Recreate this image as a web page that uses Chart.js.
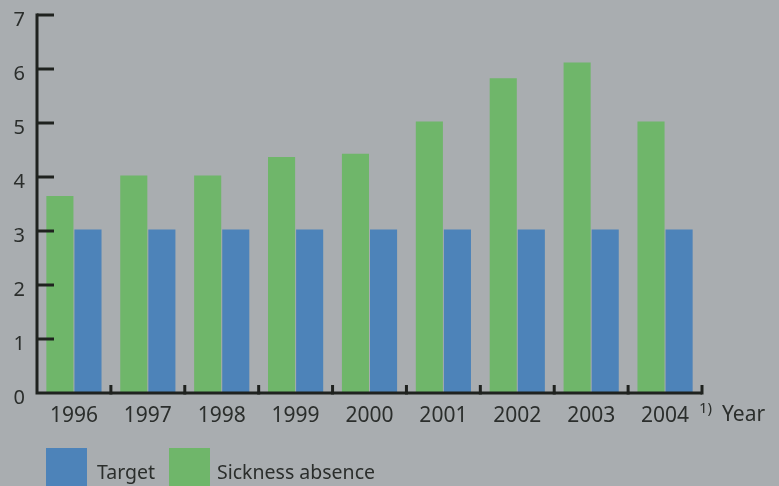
<!DOCTYPE html>
<html lang="en">
<head>
<meta charset="UTF-8">
<title>Sickness absence</title>
<script src="https://cdn.jsdelivr.net/npm/chart.js"></script>
<style>
    body { margin: 0; background: #a9adb0; }
    #wrap { width: 779px; height: 486px; }
</style>
</head>
<body>
<div id="wrap"><canvas id="grafico" width="779" height="486"></canvas></div>
<script>
    // dados
    const anos = ['1996', '1997', '1998', '1999', '2000', '2001', '2002', '2003', '2004'];
    const ausencia = [3.65, 4.03, 4.03, 4.37, 4.43, 5.03, 5.83, 6.12, 5.03];
    const meta = [3.03, 3.03, 3.03, 3.03, 3.03, 3.03, 3.03, 3.03, 3.03];
    const yTicks = [0, 1, 2, 3, 4, 5, 6, 7];

    const corEixo = '#1f221f';
    const corTexto = '#2b2e2c';
    const fonte = '"Noto Sans", "Open Sans", sans-serif';

    // eixos e legenda desenhados à mão
    const eixos = {
        id: 'eixos',
        afterDraw(chart) {
            const ctx = chart.ctx;
            const x = chart.scales.x, y = chart.scales.y;
            const x0 = x.left, x1 = x.right, yb = y.getPixelForValue(0), yt = y.getPixelForValue(7);
            ctx.save();
            ctx.strokeStyle = corEixo;
            ctx.lineWidth = 3;
            ctx.lineCap = 'butt';
            ctx.beginPath();
            ctx.moveTo(x0, yt - 1.5);
            ctx.lineTo(x0, yb);
            ctx.lineTo(x1, yb);
            ctx.stroke();
            // ticks do y, para dentro
            yTicks.forEach(v => {
                if (v === 0) return;
                const py = y.getPixelForValue(v);
                ctx.beginPath();
                ctx.moveTo(x0, py);
                ctx.lineTo(x0 + 17, py);
                ctx.stroke();
            });
            // ticks do x entre as categorias
            const w = (x1 - x0) / anos.length;
            for (let i = 1; i <= anos.length; i++) {
                const px = x0 + i * w;
                ctx.beginPath();
                ctx.moveTo(px, yb + 1.5);
                ctx.lineTo(px, yb - 8);
                ctx.stroke();
            }
            // rótulo do eixo x
            ctx.fillStyle = corTexto;
            ctx.textBaseline = 'alphabetic';
            ctx.textAlign = 'left';
            ctx.font = '15px ' + fonte;
            ctx.fillText('1)', 699, 413);
            ctx.font = '21px ' + fonte;
            ctx.fillText('Year', 722, 421);

            // legenda
            const itens = [
                { texto: 'Target', cor: chart.data.datasets[1].backgroundColor, bx: 46, tx: 97 },
                { texto: 'Sickness absence', cor: chart.data.datasets[0].backgroundColor, bx: 169, tx: 217 }
            ];
            itens.forEach(it => {
                ctx.fillStyle = it.cor;
                ctx.fillRect(it.bx, 448, 41, 40);
                ctx.fillStyle = corTexto;
                ctx.font = '19.5px ' + fonte;
                ctx.fillText(it.texto, it.tx, 479);
            });
            ctx.restore();
        }
    };

    new Chart(document.getElementById('grafico'), {
        type: 'bar',
        data: {
            labels: anos,
            datasets: [
                { label: 'Sickness absence', data: ausencia, backgroundColor: '#6fb66a' },
                { label: 'Target', data: meta, backgroundColor: '#4d83b9' }
            ]
        },
        plugins: [eixos],
        options: {
            responsive: false,
            animation: false,
            layout: { padding: { top: 15, right: 77, left: 0, bottom: 0 } },
            plugins: {
                legend: { display: false },
                tooltip: { enabled: false }
            },
            datasets: {
                bar: { categoryPercentage: 0.76, barPercentage: 0.965 }
            },
            scales: {
                x: {
                    grid: { display: false, drawTicks: false },
                    border: { display: false },
                    ticks: {
                        color: corTexto,
                        font: { family: fonte, size: 21 },
                        padding: 10,
                        maxRotation: 0
                    },
                    afterFit(s) { s.height = 93; s.paddingLeft = 0; s.paddingRight = 0; }
                },
                y: {
                    min: 0,
                    max: 7,
                    grid: { display: false, drawTicks: false },
                    border: { display: false },
                    afterBuildTicks(s) { s.ticks = yTicks.map(v => ({ value: v })); },
                    ticks: {
                        color: corTexto,
                        font: { family: fonte, size: 20 },
                        padding: 12,
                        labelOffset: 5
                    },
                    afterFit(s) { s.width = 37; s.paddingTop = 0; s.paddingBottom = 0; }
                }
            }
        }
    });
</script>
</body>
</html>
